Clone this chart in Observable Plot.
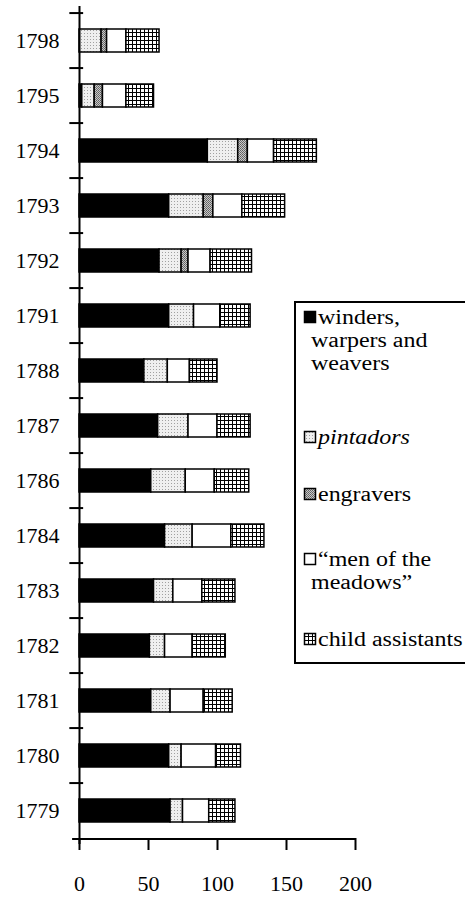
<!DOCTYPE html>
<html><head><meta charset="utf-8">
<script src="https://cdn.jsdelivr.net/npm/d3@7"></script>
<script src="https://cdn.jsdelivr.net/npm/@observablehq/plot@0.6"></script>
<style>
html,body{margin:0;padding:0;background:#fff;overflow:hidden;width:465px;height:897px;}
#wrap{position:relative;width:465px;height:897px;}
#defs{position:absolute;left:0;top:0;width:0;height:0;}
#overlay{position:absolute;left:0;top:0;pointer-events:none;}
</style>
</head><body>
<svg id="defs" width="0" height="0">
  <defs>
    <pattern id="pPint" width="3" height="3" patternUnits="userSpaceOnUse">
      <rect width="3" height="3" fill="#efefef"/>
      <rect x="0" y="0" width="1" height="1" fill="#a0a0a0"/>
    </pattern>
    <pattern id="pEngr" width="2" height="2" patternUnits="userSpaceOnUse">
      <rect width="2" height="2" fill="#c8c8c8"/>
      <rect x="0" y="0" width="1" height="1" fill="#606060"/>
      <rect x="1" y="1" width="1" height="1" fill="#707070"/>
    </pattern>
    <pattern id="pChild" width="4" height="4" patternUnits="userSpaceOnUse">
      <rect width="4" height="4" fill="#fff"/>
      <rect x="0" y="0" width="4" height="1" fill="#000"/>
      <rect x="0" y="0" width="1" height="4" fill="#000"/>
    </pattern>
  </defs>
</svg>
<div id="wrap"></div>
<script>
// ---- data ----
const years = ["1798","1795","1794","1793","1792","1791","1788","1787","1786","1784","1783","1782","1781","1780","1779"];
const series = ["winders, warpers and weavers","pintadors","engravers","“men of the meadows”","child assistants"];
const winders   = [0, 2, 93, 65, 58, 65, 47, 57, 52, 62, 54, 51, 52, 65, 66];
const pintadors = [16, 9, 22, 25, 16, 18, 17, 22, 25, 20, 14, 11, 14, 9, 9];
const engravers = [4, 6, 7, 7, 5, 0, 0, 0, 0, 0, 0, 0, 0, 0, 0];
const menOfMeadows = [14, 17, 19, 21, 16, 19, 16, 21, 21, 28, 21, 20, 24, 25, 19];
const childAssistants = [24, 20, 31, 31, 30, 22, 20, 24, 25, 24, 24, 24, 21, 18, 19];
const xTicks = [0, 50, 100, 150, 200];
const legendLines = [["winders,","warpers and","weavers"],["pintadors"],["engravers"],["“men of the","meadows”"],["child assistants"]];

// ---- styles ----
const fills = ["#000", "url(#pPint)", "url(#pEngr)", "#fff", "url(#pChild)"];
const W = 465, H = 897, MT = 6, MB = 53, ML = 79, MR = 110;
const frameH = H - MT - MB;
const step = frameH / years.length;

const valuesBySeries = [winders, pintadors, engravers, menOfMeadows, childAssistants];
const data = [];
years.forEach((yr, i) => {
  series.forEach((s, j) => {
    const v = valuesBySeries[j][i];
    if (v > 0) data.push({year: yr, series: s, value: v});
  });
});

const chart = Plot.plot({
  width: W, height: H,
  marginTop: MT, marginBottom: MB, marginLeft: ML, marginRight: MR,
  style: {fontFamily: '"Liberation Serif", "Times New Roman", serif', fontSize: "22px", color: "#000", background: "transparent"},
  x: {domain: [0, 200], ticks: xTicks, tickSize: 0, tickPadding: 31, label: null},
  y: {domain: years, paddingInner: 0.59, paddingOuter: 0.295, tickSize: 0, tickPadding: 20, label: null},
  color: {domain: series, range: fills},
  marks: [
    Plot.barX(data, Plot.stackX({x: "value", y: "year", fill: "series", stroke: "#000", strokeWidth: 1.5})),
    Plot.ruleX([0], {stroke: "#000", strokeWidth: 2}),
    Plot.ruleY(years, {y: d => d, x1: -7, x2: 3, dy: -step / 2, stroke: "#000", strokeWidth: 2}),
    Plot.ruleY([years[years.length - 1]], {y: d => d, x1: -5, x2: 200, dy: step / 2, stroke: "#000", strokeWidth: 2}),
    Plot.ruleX(xTicks, {x: d => d, insetTop: frameH - 6, insetBottom: -6, stroke: "#000", strokeWidth: 2})
  ]
});
document.getElementById("wrap").appendChild(chart);

// ---- legend overlay ----
const ov = d3.select("#wrap").append("svg").attr("id", "overlay").attr("width", W).attr("height", H);
ov.append("rect").attr("x", 295).attr("y", 302).attr("width", 200).attr("height", 361)
  .attr("fill", "#fff").attr("stroke", "#000").attr("stroke-width", 2);
const baselines = [[324, 347, 370], [444], [501], [566, 589], [646]];
legendLines.forEach((lines, k) => {
  const b0 = baselines[k][0];
  ov.append("rect").attr("x", 304.5).attr("y", b0 - 12.5).attr("width", 11).attr("height", 11)
    .attr("fill", fills[k]).attr("stroke", "#000").attr("stroke-width", 1.5);
  lines.forEach((t, m) => {
    ov.append("text")
      .attr("transform", `translate(${m === 0 ? 318 : 311},${baselines[k][m]}) scale(1.17,1)`)
      .attr("font-family", '"Liberation Serif", "Times New Roman", serif')
      .attr("font-size", 20.5)
      .attr("font-style", k === 1 ? "italic" : "normal")
      .attr("fill", "#000")
      .text(t);
  });
});
</script>
</body></html>
